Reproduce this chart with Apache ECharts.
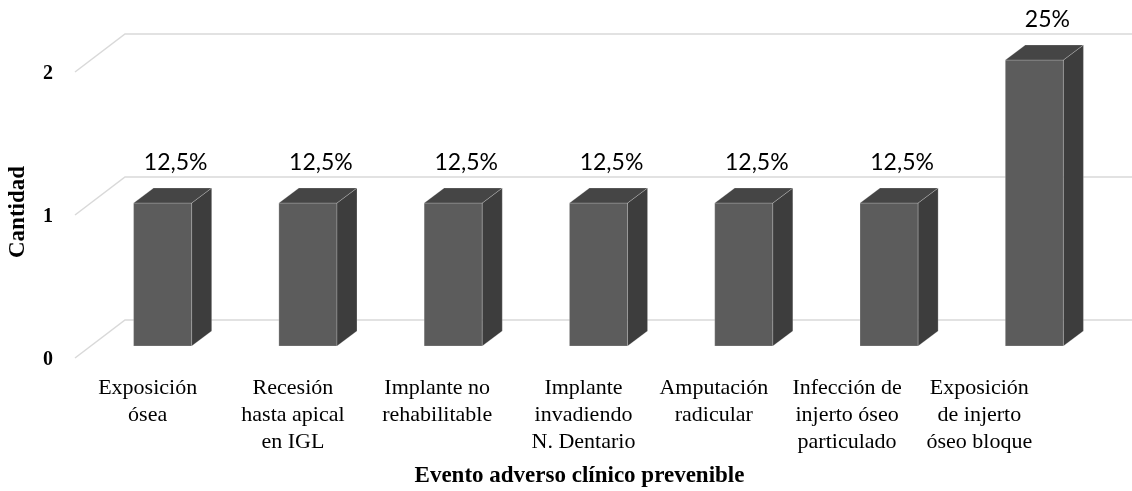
<!DOCTYPE html>
<html>
<head>
<meta charset="utf-8">
<title>Evento adverso clínico prevenible</title>
<script src="https://cdn.jsdelivr.net/npm/echarts@6/dist/echarts.min.js"></script>
<style>
  html, body { margin: 0; padding: 0; background: #ffffff; }
  #chart { width: 1132px; height: 491px; }
</style>
</head>
<body>
<div id="chart"></div>
<script>
// Categories (adverse clinical events) and their counts
const categories = [
  'Exposición\nósea',
  'Recesión\nhasta apical\nen IGL',
  'Implante no\nrehabilitable',
  'Implante\ninvadiendo\nN. Dentario',
  'Amputación\nradicular',
  'Infección de\ninjerto óseo\nparticulado',
  'Exposición\nde injerto\nóseo bloque'
];
const counts = [1, 1, 1, 1, 1, 1, 2];
const yTicks = [0, 1, 2];

// Percentage labels derived from the counts (comma as decimal separator)
const total = counts.reduce((a, b) => a + b, 0);
const pctLabels = counts.map(v => {
  const p = Math.round(v / total * 1000) / 10;
  return String(p).replace('.', ',') + '%';
});

// Horizontal nudge of each category label (px to the left)
const labelNudge = [15, 15, 16, 15, 30, 42, 55];

const SERIF = '"Liberation Serif", "Times New Roman", serif';
const SANS = 'Lato, "Open Sans", sans-serif';

// 3D extrusion of the bars and of the floor/back grid
const DEPTH_X = 20, DEPTH_Y = -15;
const GRID_FRONT_DY = 12, GRID_BACK_DY = -26;

// One rich style per category label, so each can be nudged sideways
const catRich = {};
labelNudge.forEach((n, i) => {
  catRich['c' + i] = {
    color: '#000',
    fontFamily: SERIF,
    fontSize: 22,
    lineHeight: 27,
    padding: [0, n * 2, 0, 0]
  };
});

const chart = echarts.init(document.getElementById('chart'), null, { renderer: 'canvas' });

const option = {
  backgroundColor: '#ffffff',
  animation: false,
  grid: { left: 90, right: 25, top: 60, bottom: 145, outerBoundsMode: 'none', containLabel: false },
  xAxis: {
    type: 'category',
    data: categories,
    axisLine: { show: false },
    axisTick: { show: false },
    splitLine: { show: false },
    axisLabel: {
      interval: 0,
      margin: 29,
      hideOverlap: false,
      color: '#000',
      fontFamily: SERIF,
      fontSize: 22,
      lineHeight: 27,
      formatter: function (value, index) {
        return value.split('\n').map(line => '{c' + index + '|' + line + '}').join('\n');
      },
      rich: catRich
    },
    name: 'Evento adverso clínico prevenible',
    nameLocation: 'middle',
    nameGap: 119,
    nameTextStyle: {
      color: '#000',
      fontFamily: SERIF,
      fontWeight: 'bold',
      fontSize: 23,
      padding: [0, 38, 0, 0]
    }
  },
  yAxis: {
    type: 'value',
    min: 0,
    max: 2,
    interval: 1,
    axisLine: { show: false },
    axisTick: { show: false },
    splitLine: { show: false },
    axisLabel: {
      margin: 37,
      color: '#000',
      fontFamily: SERIF,
      fontWeight: 'bold',
      fontSize: 20,
      verticalAlign: 'top',
      lineHeight: 27
    },
    name: 'Cantidad',
    nameLocation: 'middle',
    nameGap: 60,
    nameRotate: 90,
    nameTextStyle: {
      color: '#000',
      fontFamily: SERIF,
      fontWeight: 'bold',
      fontSize: 23,
      padding: [0, 18, 0, 0]
    }
  },
  series: [
    {
      // Perspective gridlines: short diagonal on the floor edge, then along the back wall
      type: 'custom',
      z: 1,
      silent: true,
      data: yTicks.map(v => [0, v]),
      renderItem: function (params, api) {
        const p = api.coord([0, api.value(1)]);
        const left = api.coord([0, 0])[0] - api.size([1, 0])[0] / 2;
        const y = p[1];
        return {
          type: 'polyline',
          shape: {
            points: [
              [left - 15, y + GRID_FRONT_DY],
              [left + 35, y + GRID_BACK_DY],
              [api.getWidth(), y + GRID_BACK_DY]
            ]
          },
          style: { stroke: '#d9d9d9', lineWidth: 1.5, fill: null }
        };
      }
    },
    {
      // 3D bars: front face, side face, top face and a value label
      type: 'custom',
      z: 2,
      data: counts.map((v, i) => [i, v]),
      renderItem: function (params, api) {
        const i = api.value(0);
        const v = api.value(1);
        const base = api.coord([i, 0]);
        const top = api.coord([i, v]);
        const w = api.size([1, 0])[0] * 0.4;
        const x0 = base[0] - w / 2;
        const x1 = base[0] + w / 2;
        const yb = base[1];
        const yt = top[1];
        const edge = { stroke: 'rgba(255,255,255,0.35)', lineWidth: 0.6 };
        return {
          type: 'group',
          children: [
            {
              type: 'polygon',
              shape: { points: [[x0, yb], [x0, yt], [x1, yt], [x1, yb]] },
              style: Object.assign({ fill: '#5c5c5c' }, edge)
            },
            {
              type: 'polygon',
              shape: {
                points: [
                  [x1, yb], [x1 + DEPTH_X, yb + DEPTH_Y],
                  [x1 + DEPTH_X, yt + DEPTH_Y], [x1, yt]
                ]
              },
              style: Object.assign({ fill: '#3d3d3d' }, edge)
            },
            {
              type: 'polygon',
              shape: {
                points: [
                  [x0, yt], [x0 + DEPTH_X, yt + DEPTH_Y],
                  [x1 + DEPTH_X, yt + DEPTH_Y], [x1, yt]
                ]
              },
              style: Object.assign({ fill: '#454545' }, edge)
            },
            {
              type: 'text',
              style: {
                text: pctLabels[params.dataIndex],
                x: base[0] + 13,
                y: yt + DEPTH_Y - 25,
                align: 'center',
                verticalAlign: 'middle',
                fill: '#000',
                font: '23px ' + SANS
              }
            }
          ]
        };
      }
    }
  ]
};

chart.setOption(option);
</script>
</body>
</html>
